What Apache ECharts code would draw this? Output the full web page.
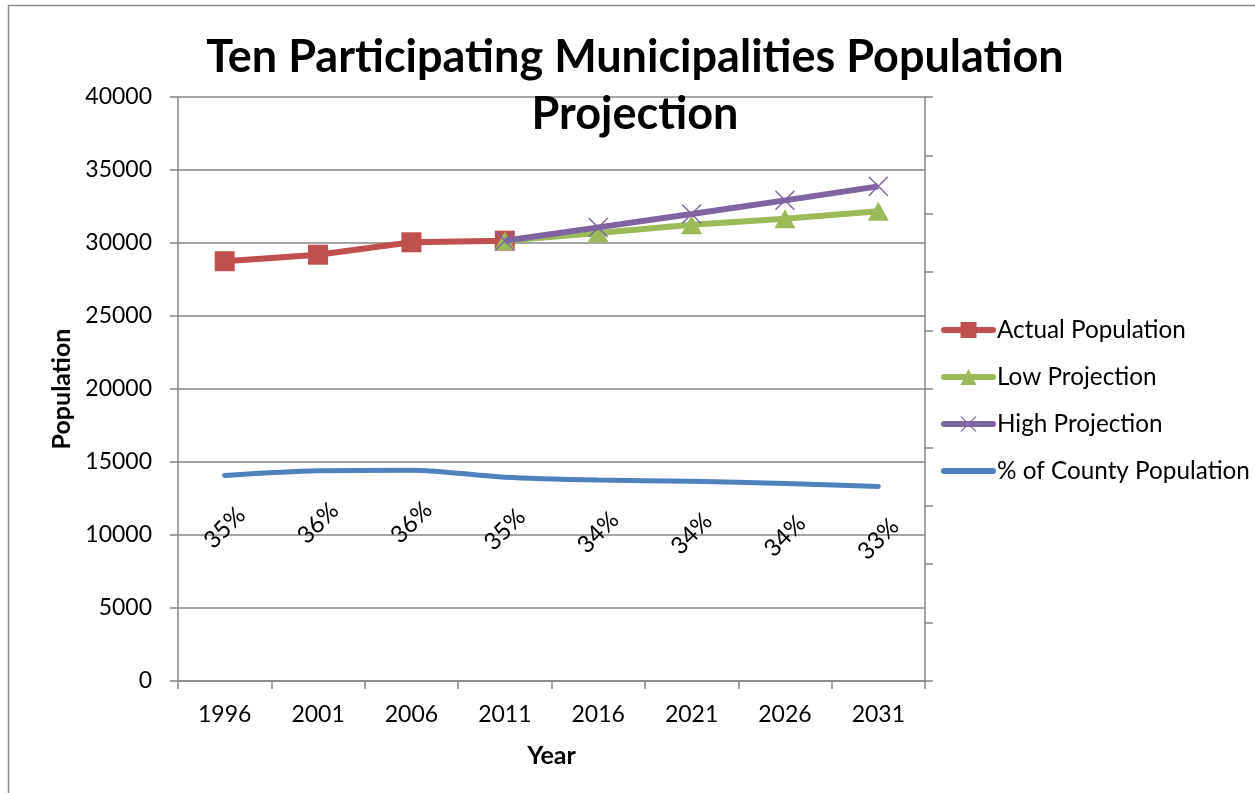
<!DOCTYPE html>
<html>
<head>
<meta charset="utf-8">
<script src="https://cdn.jsdelivr.net/npm/echarts@6/dist/echarts.min.js"></script>
<style>
  html, body { margin: 0; padding: 0; background: #fff; }
  #chart { width: 1255px; height: 793px; }
</style>
</head>
<body>
<div id="chart"></div>
<script>
// Census years and projection horizon
const years = ['1996', '2001', '2006', '2011', '2016', '2021', '2026', '2031'];

// Population of the ten participating municipalities
const actualPopulation = [28750, 29200, 30050, 30160, null, null, null, null];
const lowProjection    = [null, null, null, 30160, 30690, 31250, 31660, 32170];
const highProjection   = [null, null, null, 30160, 31070, 31980, 32920, 33880];

// Share of county population (secondary axis, 0..1)
const countyShare = [0.352, 0.360, 0.361, 0.349, 0.344, 0.342, 0.338, 0.333];

const FONT = 'Lato';
const GREY = '#878787';

const chart = echarts.init(document.getElementById('chart'), null, { renderer: 'canvas' });

// Thin diagonal cross marker
const crossPath = 'path://M0,1L1,0L20,19L19,20Z M19,0L20,1L1,20L0,19Z';

chart.setOption({
  animation: false,
  textStyle: { fontFamily: FONT, color: '#000' },
  title: {
    text: 'Ten Participating Municipalities Population\nProjection',
    left: 630,
    textAlign: 'center',
    top: 24,
    textStyle: { fontFamily: FONT, fontWeight: 'bold', fontSize: 45, lineHeight: 57, color: '#000' }
  },
  graphic: [{
    type: 'rect',
    shape: { x: 8.5, y: 5.5, width: 1400, height: 900 },
    style: { fill: 'none', stroke: '#8a8a8a', lineWidth: 1.5 },
    silent: true
  }],
  legend: {
    orient: 'vertical',
    left: 941,
    top: 318,
    padding: 0,
    itemWidth: 49,
    itemHeight: 20,
    itemGap: 23,
    lineStyle: { width: 6, cap: 'round' },
    textStyle: { fontFamily: FONT, fontSize: 24.3, color: '#000', lineHeight: 24, padding: [0, 0, 0, -1] },
    data: [
      'Actual Population',
      'Low Projection',
      'High Projection',
      { name: '% of County Population', itemStyle: { opacity: 0 } }
    ]
  },
  grid: { left: 178, right: 330, top: 97, bottom: 112, containLabel: false },
  xAxis: {
    type: 'category',
    data: years,
    boundaryGap: true,
    name: 'Year',
    nameLocation: 'middle',
    nameGap: 62,
    nameTextStyle: { fontFamily: FONT, fontWeight: 'bold', fontSize: 25, color: '#000' },
    axisLine: { lineStyle: { color: GREY, width: 1.5 } },
    axisTick: { show: true, inside: false, length: 8, alignWithLabel: false, interval: 0, lineStyle: { color: GREY, width: 1.5 } },
    axisLabel: { fontFamily: FONT, fontSize: 23, color: '#000', margin: 22 }
  },
  yAxis: [{
    type: 'value',
    min: 0,
    max: 40000,
    interval: 5000,
    name: 'Population',
    nameLocation: 'middle',
    nameRotate: 90,
    nameGap: 104,
    nameTextStyle: { fontFamily: FONT, fontWeight: 'bold', fontSize: 25, color: '#000' },
    axisLine: { show: true, lineStyle: { color: GREY, width: 1.5 } },
    axisTick: { show: true, inside: false, length: 8, lineStyle: { color: GREY, width: 1.5 } },
    axisLabel: { fontFamily: FONT, fontSize: 23, color: '#000', margin: 26, formatter: v => String(v) },
    splitLine: { show: true, lineStyle: { color: GREY, width: 1.5 } }
  }, {
    type: 'value',
    min: 0,
    max: 1,
    interval: 0.1,
    position: 'right',
    axisLine: { show: true, lineStyle: { color: GREY, width: 1.5 } },
    axisTick: { show: true, inside: false, length: 8, lineStyle: { color: GREY, width: 1.5 } },
    axisLabel: { show: false },
    splitLine: { show: false }
  }],
  series: [{
    name: '% of County Population',
    type: 'line',
    yAxisIndex: 1,
    data: countyShare,
    smooth: 0.3,
    symbol: 'circle',
    symbolSize: 1,
    showSymbol: true,
    lineStyle: { color: '#4F81BD', width: 5, cap: 'round' },
    itemStyle: { color: 'rgba(79,129,189,0)', borderWidth: 0 },
    label: {
      show: true,
      position: 'bottom',
      distance: 52,
      rotate: 45,
      align: 'center',
      verticalAlign: 'middle',
      fontFamily: FONT,
      fontSize: 24,
      color: '#000',
      formatter: p => Math.round(p.value * 100) + '%'
    },
    z: 2
  }, {
    name: 'Actual Population',
    type: 'line',
    data: actualPopulation,
    symbol: 'rect',
    symbolSize: 20,
    lineStyle: { color: '#C0504D', width: 6 },
    itemStyle: { color: '#C0504D' },
    z: 3
  }, {
    name: 'Low Projection',
    type: 'line',
    data: lowProjection,
    symbol: 'triangle',
    symbolSize: [21, 19],
    lineStyle: { color: '#9BBB59', width: 6 },
    itemStyle: { color: '#9BBB59' },
    z: 4
  }, {
    name: 'High Projection',
    type: 'line',
    data: highProjection,
    symbol: crossPath,
    symbolSize: 20,
    lineStyle: { color: '#8064A2', width: 6 },
    itemStyle: { color: '#8064A2' },
    z: 5
  }]
});
</script>
</body>
</html>
